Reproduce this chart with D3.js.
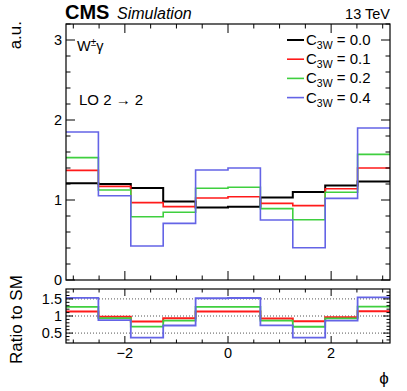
<!DOCTYPE html>
<html>
<head>
<meta charset="utf-8">
<script src="https://cdn.jsdelivr.net/npm/d3@7"></script>
<style>
  body { margin: 0; background: #fff; }
  text { font-family: "Liberation Sans", Arial, sans-serif; fill: #000; }
</style>
</head>
<body>
<div id="chart"></div>
<script>
// Data (normalised, a.u.), 10 bins in phi from -pi to pi
let nBins = 10;
let couplings = ["0.0", "0.1", "0.2", "0.4"];
let colors = ["#000000", "#ff1a1a", "#3fcf3f", "#6464e6"];
let c3w_00 = [1.21, 1.20, 1.15, 0.98, 0.905, 0.917, 1.03, 1.10, 1.18, 1.23];
let c3w_01 = [1.37, 1.17, 0.967, 0.917, 1.025, 1.04, 0.958, 0.93, 1.14, 1.40];
let c3w_02 = [1.53, 1.125, 0.79, 0.846, 1.146, 1.16, 0.892, 0.754, 1.096, 1.57];
let c3w_04 = [1.85, 1.054, 0.425, 0.708, 1.375, 1.40, 0.75, 0.404, 1.02, 1.90];
let xTicks = [-2, 0, 2];
let yTicksMain = [0, 1, 2, 3];
let yTicksRatio = [0.5, 1, 1.5];

let series = [c3w_00, c3w_01, c3w_02, c3w_04];

// Layout
let W = 407, H = 391;
let left = 66, right = 390;
let mainTop = 24, mainBottom = 280;
let ratioTop = 289, ratioBottom = 343;

let svg = d3.select("#chart").append("svg")
  .attr("width", W).attr("height", H);

let xScale = d3.scaleLinear().domain([-Math.PI, Math.PI]).range([left, right]);
let yMain = d3.scaleLinear().domain([0, 3.2]).range([mainBottom, mainTop]);
let yRatio = d3.scaleLinear().domain([0.21, 1.79]).range([ratioBottom, ratioTop]);

let edges = d3.range(nBins + 1).map(function (i) {
  return -Math.PI + (2 * Math.PI * i) / nBins;
});

// Step path for a histogram
function histPath(values, y) {
  let pts = values.map(function (v, i) { return [xScale(edges[i]), y(v)]; });
  pts.push([xScale(edges[nBins]), y(values[nBins - 1])]);
  return d3.line().curve(d3.curveStepAfter)(pts);
}

//------------------------------------------------------------------------------------->
// Draw ticks on all four sides of a frame (ROOT style, pointing inwards)
function frameTicks(g, y, top, bottom, yMajor, yMinorStep, majLen, minLen) {
  let yMinor = d3.range(Math.ceil(y.domain()[0] / yMinorStep), Math.floor(y.domain()[1] / yMinorStep) + 1)
    .map(function (k) { return +(k * yMinorStep).toFixed(3); });
  let xMinor = d3.range(-6, 7).map(function (k) { return k * 0.5; })
    .filter(function (v) { return v > -Math.PI && v < Math.PI; });

  let ticks = g.append("g").attr("stroke", "#000").attr("stroke-width", 1);
  yMinor.forEach(function (v) {
    let len = yMajor.indexOf(v) >= 0 ? majLen : minLen;
    ticks.append("line").attr("x1", left).attr("x2", left + len).attr("y1", y(v)).attr("y2", y(v));
    ticks.append("line").attr("x1", right).attr("x2", right - len).attr("y1", y(v)).attr("y2", y(v));
  });
  xMinor.forEach(function (v) {
    let len = xTicks.indexOf(v) >= 0 ? majLen : minLen;
    ticks.append("line").attr("x1", xScale(v)).attr("x2", xScale(v)).attr("y1", bottom).attr("y2", bottom - len);
    ticks.append("line").attr("x1", xScale(v)).attr("x2", xScale(v)).attr("y1", top).attr("y2", top + len);
  });
}

//------------------------------------------------------------------------------------->
// Main panel
let main = svg.append("g");

series.forEach(function (s, i) {
  main.append("path")
    .attr("d", histPath(s, yMain))
    .attr("fill", "none")
    .attr("stroke", colors[i])
    .attr("stroke-width", i === 0 ? 2 : 1.6);
});

frameTicks(main, yMain, mainTop, mainBottom, yTicksMain, 0.2, 9, 4.5);

main.append("rect")
  .attr("x", left).attr("y", mainTop)
  .attr("width", right - left).attr("height", mainBottom - mainTop)
  .attr("fill", "none").attr("stroke", "#000").attr("stroke-width", 1.2);

main.selectAll(".ylab").data(yTicksMain).enter().append("text")
  .attr("x", left - 4).attr("y", function (d) { return yMain(d) + 5; })
  .attr("text-anchor", "end").style("font-size", "14.5px")
  .text(function (d) { return d; });

// Ratio panel
let ratio = svg.append("g");

let grid = ratio.append("g")
  .attr("stroke", "#555").attr("stroke-width", 1).attr("stroke-dasharray", "1,2");
yTicksRatio.forEach(function (v) {
  grid.append("line").attr("x1", left).attr("x2", right).attr("y1", yRatio(v)).attr("y2", yRatio(v));
});

series.forEach(function (s, i) {
  if (i === 0) return;
  let r = s.map(function (v, j) { return v / c3w_00[j]; });
  ratio.append("path")
    .attr("d", histPath(r, yRatio))
    .attr("fill", "none")
    .attr("stroke", colors[i])
    .attr("stroke-width", i === 1 ? 2 : 1.8);
});

frameTicks(ratio, yRatio, ratioTop, ratioBottom, yTicksRatio, 0.1, 7, 3.5);

ratio.append("rect")
  .attr("x", left).attr("y", ratioTop)
  .attr("width", right - left).attr("height", ratioBottom - ratioTop)
  .attr("fill", "none").attr("stroke", "#000").attr("stroke-width", 1.2);

ratio.selectAll(".ylab").data(yTicksRatio).enter().append("text")
  .attr("x", left - 4).attr("y", function (d) { return yRatio(d) + 5; })
  .attr("text-anchor", "end").style("font-size", "14.5px")
  .text(function (d) { return d; });

ratio.selectAll(".xlab").data(xTicks).enter().append("text")
  .attr("x", function (d) { return xScale(d); }).attr("y", ratioBottom + 15)
  .attr("text-anchor", "middle").style("font-size", "14.5px")
  .text(function (d) { return d < 0 ? "\u2212" + Math.abs(d) : d; });

//------------------------------------------------------------------------------------->
// Titles and labels
svg.append("text").attr("x", 65).attr("y", 19)
  .style("font-size", "20px").style("font-weight", "bold").text("CMS");
svg.append("text").attr("x", 117).attr("y", 19)
  .style("font-size", "16px").style("font-style", "italic").text("Simulation");
svg.append("text").attr("x", 390).attr("y", 19).attr("text-anchor", "end")
  .style("font-size", "14.5px").text("13 TeV");

svg.append("text").attr("transform", "translate(21,21) rotate(-90)")
  .attr("text-anchor", "end").style("font-size", "17px").text("a.u.");
svg.append("text").attr("transform", "translate(22,364) rotate(-90)")
  .attr("text-anchor", "start").style("font-size", "17px").text("Ratio to SM");
svg.append("text").attr("x", 384).attr("y", 384).attr("text-anchor", "middle")
  .style("font-size", "17px").text("\u03d5");

let proc = svg.append("text").attr("x", 77).attr("y", 51).style("font-size", "14.5px");
proc.append("tspan").text("W");
proc.append("tspan").attr("dy", -5).style("font-size", "10px").text("\u00b1");
proc.append("tspan").attr("dy", 5).text("\u03b3");

svg.append("text").attr("x", 79).attr("y", 105).style("font-size", "15px").text("LO 2 \u2192 2");

// Legend
let legend = svg.append("g");
couplings.forEach(function (c, i) {
  let yy = 40 + i * 19.2;
  legend.append("line")
    .attr("x1", 287).attr("x2", 304).attr("y1", yy).attr("y2", yy)
    .attr("stroke", colors[i]).attr("stroke-width", i === 0 ? 2 : 1.6);
  let t = legend.append("text").attr("x", 306).attr("y", yy + 5).style("font-size", "15px");
  t.append("tspan").text("C");
  t.append("tspan").attr("dy", 4).style("font-size", "10.5px").text("3W");
  t.append("tspan").attr("dy", -4).text(" = " + c);
});
</script>
</body>
</html>
